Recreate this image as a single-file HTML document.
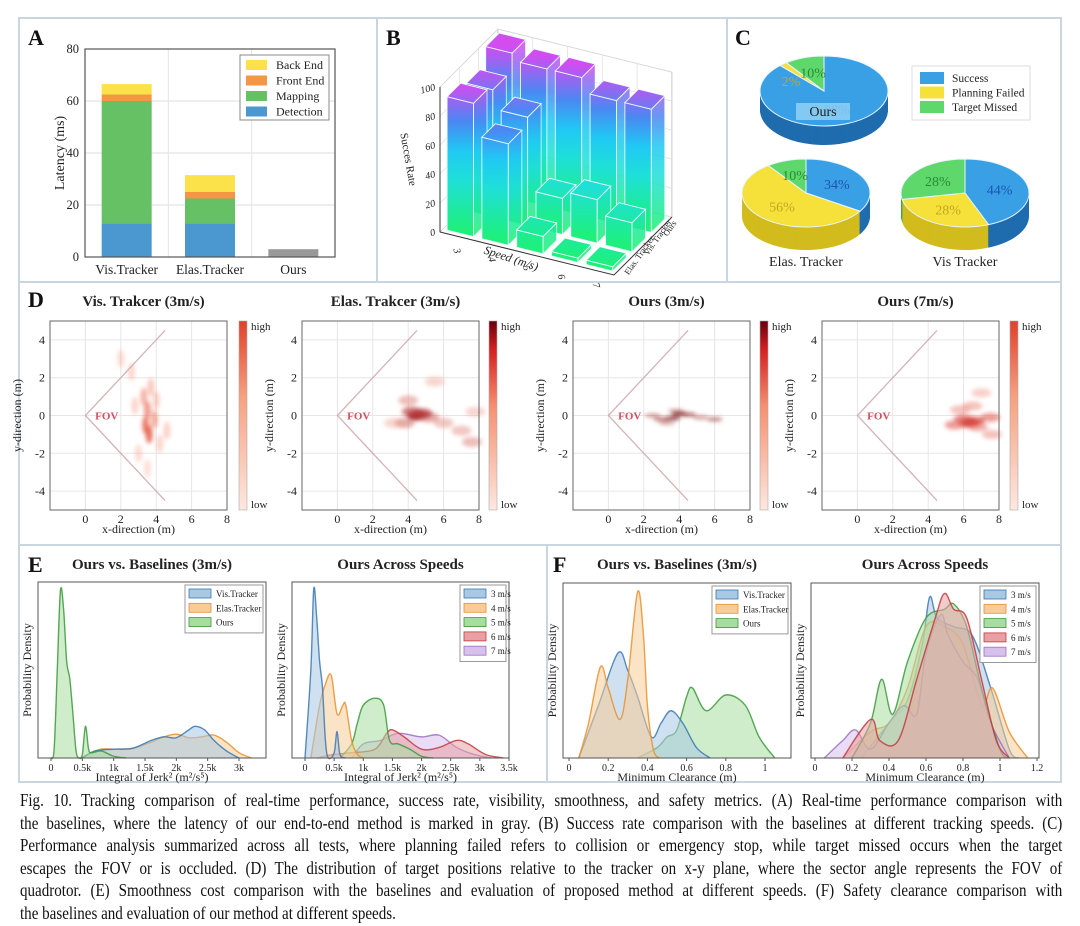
<!DOCTYPE html>
<html><head><meta charset="utf-8"><style>
html,body{margin:0;padding:0;background:#fff;}
body{width:1080px;height:926px;position:relative;overflow:hidden;font-family:"Liberation Serif",serif;}
#cap{position:absolute;left:20px;top:789px;width:1042px;font-size:17.5px;line-height:22.6px;color:#111;}
#cap div{width:1212px;transform:scaleX(0.86);transform-origin:0 0;text-align:justify;text-align-last:justify;white-space:nowrap;height:22.6px;}
#cap div.last{text-align-last:left;}
svg text{font-family:"Liberation Serif",serif;}
</style></head><body>
<svg id="fig" width="1080" height="926" viewBox="0 0 1080 926" style="position:absolute;left:0;top:0">
<defs>
<filter id="blur2" x="-50%" y="-50%" width="200%" height="200%"><feGaussianBlur stdDeviation="2"/></filter>
<linearGradient id="cbar1" x1="0" y1="1" x2="0" y2="0"><stop offset="0" stop-color="#fde8e0"/><stop offset="0.6" stop-color="#f7a080"/><stop offset="1" stop-color="#e0402a"/></linearGradient>
<linearGradient id="cbar2" x1="0" y1="1" x2="0" y2="0"><stop offset="0" stop-color="#fde8e0"/><stop offset="0.55" stop-color="#f59070"/><stop offset="0.85" stop-color="#d42020"/><stop offset="1" stop-color="#67000d"/></linearGradient>
</defs>
</svg>
<div id="cap">
<div>Fig. 10. Tracking comparison of real-time performance, success rate, visibility, smoothness, and safety metrics. (A) Real-time performance comparison with</div>
<div>the baselines, where the latency of our end-to-end method is marked in gray. (B) Success rate comparison with the baselines at different tracking speeds. (C)</div>
<div>Performance analysis summarized across all tests, where planning failed refers to collision or emergency stop, while target missed occurs when the target</div>
<div>escapes the FOV or is occluded. (D) The distribution of target positions relative to the tracker on x-y plane, where the sector angle represents the FOV of</div>
<div>quadrotor. (E) Smoothness cost comparison with the baselines and evaluation of proposed method at different speeds. (F) Safety clearance comparison with</div>
<div class="last">the baselines and evaluation of our method at different speeds.</div>
</div>
<script>
// ---------- DATA ----------
// Panel A
const aCategories = ["Vis.Tracker","Elas.Tracker","Ours"];
const aDetection = [13, 13, 0];
const aMapping = [47, 9.5, 0];
const aFrontEnd = [2.5, 2.5, 0];
const aBackEnd = [4, 6.5, 0];
const aOurs = [0, 0, 3];
const aTicks = [0, 20, 40, 60, 80];
// Panel B
const bSpeeds = ["3","4","5","6","7"];
const bTrackers = ["Elas. Tracker","Vis. Tracker","Ours"];
const bElas = [92, 70, 12, 3, 3];
const bVis = [88, 75, 25, 30, 20];
const bOurs = [100, 95, 95, 85, 85];
const bTicks = [0, 20, 40, 60, 80, 100];
// Panel C
const cLabels = ["Success","Planning Failed","Target Missed"];
const cOurs = [88, 2, 10];
const cElas = [34, 56, 10];
const cVis = [44, 28, 28];
// Panel D blobs [x, y, intensity]
const dVis = [[3.5,0.3,.6],[3.4,-0.5,.75],[3.6,-1,.8],[3.3,1,.45],[3.7,1.5,.3],[2,3,.15],[2.6,2.3,.18],[4.2,-1.5,.2],[4.6,-0.8,.22],[3,-2,.15],[3.5,-2.8,.1],[2.8,0.5,.2],[4,0.8,.25],[3.9,-0.2,.5]];
const dElas = [[4.5,0,.95],[4.2,0.2,.6],[3.8,-0.4,.4],[5.2,-0.1,.4],[4,0.8,.3],[6,-0.4,.25],[7,-0.8,.25],[7.6,-1.4,.3],[5.5,1.8,.15],[3.2,-0.4,.15],[7.8,0.2,.15],[4.8,0.1,.7]];
const dOurs3 = [[4,0.1,1],[3.6,-0.15,.85],[3,-0.2,.6],[2.5,0,.5],[4.5,0.05,.7],[5.2,-0.1,.5],[6,-0.2,.6],[3.3,-0.4,.4],[3.8,0.25,.4]];
const dOurs7 = [[6.3,-0.4,.9],[6,-0.2,.6],[5.5,-0.5,.5],[6.8,-0.6,.4],[7.5,-0.1,.5],[7.6,-1,.3],[6.5,0.5,.3],[7,1.2,.2],[5.8,0.3,.3],[6.6,-0.3,.7]];
const dXTicks = [0, 2, 4, 6, 8];
const dYTicks = [4, 2, 0, -2, -4];
// Panel E (x in k, y fraction of axis height)
const eVis = [[0.5,0],[0.7,0.04],[1.0,0.05],[1.3,0.055],[1.6,0.1],[1.8,0.12],[2.0,0.115],[2.2,0.16],[2.3,0.18],[2.45,0.16],[2.6,0.1],[2.8,0.04],[3.0,0]];
const eElas = [[0.45,0],[0.6,0.02],[0.8,0.05],[1.0,0.05],[1.3,0.055],[1.6,0.09],[1.8,0.12],[2.0,0.135],[2.2,0.115],[2.4,0.12],[2.6,0.13],[2.8,0.09],[3.0,0.03],[3.2,0]];
const eOurs = [[0,0],[0.05,0.05],[0.1,0.5],[0.15,0.95],[0.2,0.85],[0.25,0.55],[0.3,0.45],[0.35,0.25],[0.4,0.04],[0.45,0],[0.5,0.02],[0.55,0.18],[0.6,0.05],[0.65,0.03],[0.8,0.04],[1.0,0.01],[1.2,0]];
const eS3 = [[0,0],[0.1,0.5],[0.15,0.96],[0.2,0.8],[0.25,0.55],[0.3,0.4],[0.35,0.1],[0.4,0],[0.5,0.03],[0.55,0.15],[0.6,0.02],[0.7,0]];
const eS4 = [[0.1,0],[0.25,0.3],[0.35,0.42],[0.45,0.47],[0.55,0.25],[0.65,0.3],[0.7,0.3],[0.8,0.1],[0.9,0.02],[1.0,0]];
const eS5 = [[0.6,0],[0.8,0.08],[0.9,0.2],[1.0,0.3],[1.2,0.34],[1.35,0.3],[1.45,0.1],[1.6,0.08],[1.8,0.05],[2.0,0.01],[2.2,0]];
const eS6 = [[0.2,0],[0.5,0.02],[0.8,0.03],[1.2,0.05],[1.4,0.14],[1.5,0.16],[1.7,0.12],[2.0,0.05],[2.3,0.06],[2.6,0.1],[2.8,0.08],[3.1,0.02],[3.4,0]];
const eS7 = [[0.8,0],[1.0,0.08],[1.3,0.1],[1.6,0.14],[2.0,0.12],[2.3,0.13],[2.6,0.06],[2.9,0.02],[3.2,0]];
const eTicksL = [0,0.5,1,1.5,2,2.5,3];
const eTickLabelsL = ["0","0.5k","1k","1.5k","2k","2.5k","3k"];
const eTicksR = [0,0.5,1,1.5,2,2.5,3,3.5];
const eTickLabelsR = ["0","0.5k","1k","1.5k","2k","2.5k","3k","3.5k"];
// Panel F
const fVis = [[0.05,0],[0.15,0.3],[0.25,0.6],[0.3,0.5],[0.35,0.35],[0.42,0.12],[0.47,0.2],[0.52,0.27],[0.58,0.2],[0.65,0.06],[0.72,0]];
const fElas = [[0.05,0],[0.1,0.2],[0.16,0.52],[0.2,0.4],[0.26,0.22],[0.3,0.45],[0.35,0.95],[0.38,0.7],[0.4,0.3],[0.43,0.05],[0.46,0]];
const fOurs = [[0.35,0],[0.45,0.06],[0.5,0.12],[0.55,0.16],[0.6,0.35],[0.63,0.4],[0.7,0.27],[0.8,0.36],[0.9,0.3],[0.97,0.12],[1.05,0]];
const fS3 = [[0.25,0],[0.4,0.2],[0.5,0.33],[0.58,0.65],[0.62,0.92],[0.66,0.8],[0.75,0.75],[0.85,0.7],[0.95,0.4],[1.05,0.05],[1.1,0]];
const fS4 = [[0.15,0],[0.3,0.15],[0.4,0.2],[0.5,0.4],[0.6,0.75],[0.7,0.75],[0.8,0.65],[0.9,0.3],[0.96,0.4],[1.05,0.15],[1.15,0]];
const fS5 = [[0.2,0],[0.3,0.2],[0.36,0.45],[0.42,0.25],[0.5,0.55],[0.6,0.8],[0.7,0.85],[0.75,0.88],[0.82,0.75],[0.9,0.4],[1.0,0.05],[1.05,0]];
const fS6 = [[0.15,0],[0.3,0.22],[0.35,0.1],[0.45,0.1],[0.55,0.45],[0.65,0.8],[0.7,0.94],[0.75,0.85],[0.82,0.8],[0.9,0.45],[0.98,0.1],[1.05,0]];
const fS7 = [[0.05,0],[0.15,0.1],[0.22,0.16],[0.3,0.05],[0.4,0.2],[0.48,0.3],[0.55,0.25],[0.6,0.6],[0.68,0.82],[0.72,0.7],[0.8,0.55],[0.88,0.45],[0.95,0.2],[1.05,0]];
const fTicksL = [0,0.2,0.4,0.6,0.8,1];
const fTickLabelsL = ["0","0.2","0.4","0.6","0.8","1"];
const fTicksR = [0,0.2,0.4,0.6,0.8,1,1.2];
const fTickLabelsR = ["0","0.2","0.4","0.6","0.8","1","1.2"];

// ---------- HELPERS ----------
const NS = "http://www.w3.org/2000/svg";
const svg = document.getElementById("fig");
function mk(tag, attrs, parent) {
  const e = document.createElementNS(NS, tag);
  for (const k in attrs) e.setAttribute(k, attrs[k]);
  (parent || svg).appendChild(e);
  return e;
}
function txt(x, y, s, size, opts, parent) {
  const o = Object.assign({x: x, y: y, "font-size": size, fill: "#222"}, opts || {});
  const t = mk("text", o, parent);
  t.textContent = s;
  return t;
}
function smooth(pts) {
  let d = "M" + pts[0][0] + "," + pts[0][1];
  for (let i = 0; i < pts.length - 1; i++) {
    const p0 = pts[Math.max(0, i - 1)], p1 = pts[i], p2 = pts[i + 1], p3 = pts[Math.min(pts.length - 1, i + 2)];
    const c1x = p1[0] + (p2[0] - p0[0]) / 6, c1y = p1[1] + (p2[1] - p0[1]) / 6;
    const c2x = p2[0] - (p3[0] - p1[0]) / 6, c2y = p2[1] - (p3[1] - p1[1]) / 6;
    d += " C" + c1x + "," + c1y + " " + c2x + "," + c2y + " " + p2[0] + "," + p2[1];
  }
  return d;
}

// ---------- PANEL BORDERS ----------
const borders = [[19,18,358,264],[377,18,350,264],[727,18,334,264],[19,282,1042,263],[19,545,528,237],[547,545,514,237]];
const bnames = ["panel-a-frame","panel-b-frame","panel-c-frame","panel-d-frame","panel-e-frame","panel-f-frame"];
borders.forEach((b, i) => {
  const r = mk("rect", {x: b[0], y: b[1], width: b[2], height: b[3], fill: "none", stroke: "#c9d6e0", "stroke-width": 2});
  
  
});
const letters = [["A",28,45],["B",386,45],["C",735,45],["D",28,307],["E",28,572],["F",553,572]];
letters.forEach(l => {
  const t = txt(l[1], l[2], l[0], 22, {"font-weight": "bold", fill: "#111"});
  
  
});

// ---------- PANEL A ----------
(function () {
  const L = 85, R = 335, T = 49, B = 257, ymax = 80;
  const g = mk("g", {});
  
  
  const ys = v => B - (v / ymax) * (B - T);
  const xs = i => L + (i + 0.5) * (R - L) / 3;
  aTicks.forEach(v => {
    if (v > 0 && v < 80) mk("line", {x1: L, x2: R, y1: ys(v), y2: ys(v), stroke: "#ddd"}, g);
    const t = txt(L - 6, ys(v) + 4, String(v), 12.5, {"text-anchor": "end"}, g);
    
    
  });
  [1, 2].forEach(i => mk("line", {x1: L + i * (R - L) / 3, x2: L + i * (R - L) / 3, y1: T, y2: B, stroke: "#e4e4e4"}, g));
  const stacks = [[aDetection, "#4b97cf", "detection"], [aMapping, "#66c064", "mapping"], [aFrontEnd, "#f59646", "front-end"], [aBackEnd, "#fbe14a", "back-end"], [aOurs, "#999", "ours-latency"]];
  aCategories.forEach((c, i) => {
    let base = 0;
    stacks.forEach(s => {
      const v = s[0][i];
      if (v <= 0) return;
      const r = mk("rect", {x: xs(i) - 25, width: 50, y: ys(base + v), height: ys(base) - ys(base + v), fill: s[1]}, g);
      
      
      base += v;
    });
    const t = txt(xs(i), 274, c, 13.5, {"text-anchor": "middle"}, g);
    
    
  });
  mk("rect", {x: L, y: T, width: R - L, height: B - T, fill: "none", stroke: "#555", "stroke-width": 1.2}, g);
  const yl = txt(0, 0, "Latency (ms)", 14, {"text-anchor": "middle", transform: "translate(64,153) rotate(-90)"}, g);
  
  
  const lg = mk("g", {}, g);
  
  
  mk("rect", {x: 240, y: 55, width: 89, height: 65, fill: "#fff", stroke: "#888"}, lg);
  [["Back End", "#fbe14a"], ["Front End", "#f59646"], ["Mapping", "#66c064"], ["Detection", "#4b97cf"]].forEach((e, i) => {
    const sw = mk("rect", {x: 246, y: 60 + i * 15.5, width: 21, height: 10, fill: e[1]}, lg);
    
    
    const t = txt(276, 69 + i * 15.5, e[0], 12, {}, lg);
    
    
  });
})();

// ---------- PANEL B ----------
(function () {
  const g = mk("g", {});
  
  
  const O = [440, 232], S = [34.8, 8.6], Tv = [19.3, -19.3], H = 1.45;
  const P = (i, j, h) => [O[0] + i * S[0] + j * Tv[0], O[1] + i * S[1] + j * Tv[1] - h * H];
  const poly = (pts, attrs) => mk("polygon", Object.assign({points: pts.map(p => p.join(",")).join(" ")}, attrs), g);
  poly([P(0,0,0), P(0,3,0), P(0,3,100), P(0,0,100)], {fill: "#fff", stroke: "#bbb", "stroke-width": 0.8});
  poly([P(0,3,0), P(5,3,0), P(5,3,100), P(0,3,100)], {fill: "#fff", stroke: "#bbb", "stroke-width": 0.8});
  bTicks.forEach(v => {
    const a = P(0,0,v), b = P(0,3,v), c = P(5,3,v);
    mk("polyline", {points: [a, b, c].map(p => p.join(",")).join(" "), fill: "none", stroke: "#ddd", "stroke-width": 0.7}, g);
    const t = txt(a[0] - 5, a[1] + 3, String(v), 10, {"text-anchor": "end", "font-style": "italic", transform: "rotate(-15 " + (a[0] - 5) + " " + a[1] + ")"}, g);
    
    
  });
  for (let i = 1; i < 5; i++) { const a = P(i,3,0), b = P(i,3,100); mk("line", {x1: a[0], y1: a[1], x2: b[0], y2: b[1], stroke: "#ddd", "stroke-width": 0.7}, g); }
  for (let j = 1; j < 3; j++) { const a = P(0,j,0), b = P(0,j,100); mk("line", {x1: a[0], y1: a[1], x2: b[0], y2: b[1], stroke: "#ddd", "stroke-width": 0.7}, g); }
  const ax1 = P(0,0,0), ax2 = P(0,0,100);
  mk("line", {x1: ax1[0], y1: ax1[1], x2: ax2[0], y2: ax2[1], stroke: "#333"}, g);
  const s0 = P(0,0,0), s5 = P(5,0,0), t3 = P(5,3,0);
  mk("polyline", {points: [s0, s5, t3].map(p => p.join(",")).join(" "), fill: "none", stroke: "#333"}, g);
  const rows = [bElas, bVis, bOurs];
  let gid = 0;
  for (let j = 2; j >= 0; j--) {
    for (let i = 0; i < 5; i++) {
      const v = rows[j][i];
      const ii = i + 0.12, jj = j + 0.15, w = 0.76, dd = 0.7;
      const base = P(ii, jj, 0);
      const gradId = "bg" + (gid++);
      const lg = mk("linearGradient", {id: gradId, gradientUnits: "userSpaceOnUse", x1: 0, y1: base[1], x2: 0, y2: base[1] - 100 * H}, svg.querySelector("defs"));
      [["0", "#1ef07a"], ["0.35", "#1ee0d8"], ["0.55", "#20c8f4"], ["0.75", "#4a88f2"], ["1", "#d24cf0"]].forEach(s => mk("stop", {offset: s[0], "stop-color": s[1]}, lg));
      const bar = mk("g", {}, g);
      
      
      const f = [P(ii,jj,0), P(ii+w,jj,0), P(ii+w,jj,v), P(ii,jj,v)];
      const r = [P(ii+w,jj,0), P(ii+w,jj+dd,0), P(ii+w,jj+dd,v), P(ii+w,jj,v)];
      const tp = [P(ii,jj,v), P(ii+w,jj,v), P(ii+w,jj+dd,v), P(ii,jj+dd,v)];
      [[f, 1], [r, 0.85], [tp, 1]].forEach(face => {
        mk("polygon", {points: face[0].map(q => q.join(",")).join(" "), fill: "url(#" + gradId + ")", stroke: "#e8fbff", "stroke-width": 0.9, opacity: face[1]}, bar);
      });
    }
  }
  bSpeeds.forEach((s, i) => {
    const p = P(i + 0.5, 0, 0);
    const t = txt(p[0] - 4, p[1] + 13, s, 10, {"font-style": "italic", transform: "rotate(75 " + (p[0] - 4) + " " + (p[1] + 13) + ")"}, g);
    
    
  });
  const sl = txt(0, 0, "Speed (m/s)", 12, {"font-style": "italic", "text-anchor": "middle", transform: "translate(510,262) rotate(18)"}, g);
  
  
  bTrackers.forEach((s, j) => {
    const p = P(5, j + 0.5, 0);
    const x = p[0] + 5, y = p[1] + 10;
    const t = txt(x, y, s, 8.5, {transform: "rotate(-55 " + x + " " + y + ")"}, g);
    
    
  });
  const zl = txt(0, 0, "Succes Rate", 11, {"text-anchor": "middle", transform: "translate(405,160) rotate(80)"}, g);
  
  
})();

// ---------- PANEL C ----------
(function () {
  const top = ["#3aa0e6", "#f5e13a", "#5ed86a"], side = ["#1f6cae", "#d2bb1c", "#3aa84a"], lab = ["#1d55b0", "#c2a820", "#2a8a35"];
  function pie(cx, cy, rx, ry, depth, vals, name, labelText, labelY) {
    const g = mk("g", {});
    
    
    const total = vals.reduce((a, b) => a + b, 0);
    const path = (a0, a1, yy) => {
      const p0 = [cx + rx * Math.cos(a0), yy + ry * Math.sin(a0)], p1 = [cx + rx * Math.cos(a1), yy + ry * Math.sin(a1)];
      return "M" + cx + "," + yy + " L" + p0.join(",") + " A" + rx + "," + ry + " 0 " + ((a1 - a0) > Math.PI ? 1 : 0) + " 1 " + p1.join(",") + " Z";
    };
    for (let k = depth; k >= 1; k--) {
      let a = -Math.PI / 2;
      vals.forEach((v, i) => { const a1 = a + v / total * 2 * Math.PI; mk("path", {d: path(a, a1, cy + k), fill: side[i]}, g); a = a1; });
    }
    let a = -Math.PI / 2;
    vals.forEach((v, i) => {
      const a1 = a + v / total * 2 * Math.PI;
      const p = mk("path", {d: path(a, a1, cy), fill: top[i], stroke: "#e8f4ff", "stroke-width": 1}, g);
      
      
      const m = (a + a1) / 2;
      let lx = cx + rx * 0.55 * Math.cos(m), ly = cy + ry * 0.55 * Math.sin(m) + 5;
      if (v < 5) { lx = cx - 33; ly = cy - 5; }
      const t = txt(lx, ly, v + "%", 14, {"text-anchor": "middle", fill: lab[i]}, g);
      
      
      a = a1;
    });
    if (labelText) {
      const t = txt(cx, labelY, labelText, 14, {"text-anchor": "middle"}, g);
      
      
    }
    return g;
  }
  const gO = pie(824, 91, 64, 35, 19, cOurs, "pie-ours", null, 0);
  mk("rect", {x: 796, y: 103, width: 54, height: 17, fill: "#8fd0f4", opacity: 0.85}, gO);
  const ot = txt(823, 116, "Ours", 14, {"text-anchor": "middle"}, gO);
  
  
  pie(806, 193, 64, 34, 23, cElas, "pie-elas-tracker", "Elas. Tracker", 266);
  pie(965, 193, 64, 34, 23, cVis, "pie-vis-tracker", "Vis Tracker", 266);
  const lg = mk("g", {});
  
  
  mk("rect", {x: 912, y: 66, width: 118, height: 54, fill: "#fff", stroke: "#ddd"}, lg);
  cLabels.forEach((c, i) => {
    mk("rect", {x: 920, y: 72 + i * 14.5, width: 24, height: 12, fill: top[i]}, lg);
    const t = txt(952, 82 + i * 14.5, c, 11.5, {}, lg);
    
    
  });
})();

// ---------- PANEL D ----------
(function () {
  const panels = [
    {L: 50, title: "Vis. Trakcer  (3m/s)", data: dVis, rx: 3.5, ry: 9, cb: 239, grad: "cbar1", dark: [224, 64, 42]},
    {L: 302, title: "Elas. Trakcer  (3m/s)", data: dElas, rx: 10, ry: 5, cb: 489, grad: "cbar2", dark: [150, 0, 13]},
    {L: 573, title: "Ours (3m/s)", data: dOurs3, rx: 8, ry: 2, cb: 760, grad: "cbar2", dark: [110, 0, 13]},
    {L: 822, title: "Ours (7m/s)", data: dOurs7, rx: 10, ry: 4.5, cb: 1010, grad: "cbar1", dark: [200, 20, 20]}
  ];
  const T = 321, B = 510, W = 177;
  panels.forEach((pn, k) => {
    const g = mk("g", {});
    
    
    const xs = x => pn.L + (x + 2) / 10 * W, ys = y => B - (y + 5) / 10 * (B - T);
    mk("rect", {x: pn.L, y: T, width: W, height: B - T, fill: "#fff"}, g);
    dXTicks.forEach(x => mk("line", {x1: xs(x), x2: xs(x), y1: T, y2: B, stroke: "#e6e6e6"}, g));
    dYTicks.forEach(y => mk("line", {x1: pn.L, x2: pn.L + W, y1: ys(y), y2: ys(y), stroke: "#e6e6e6"}, g));
    const hg = mk("g", {filter: "url(#blur2)"}, g);
    pn.data.forEach(d => {
      const c = d[2];
      const col = "rgb(" + Math.round(252 + (pn.dark[0] - 252) * c) + "," + Math.round(190 + (pn.dark[1] - 190) * c) + "," + Math.round(170 + (pn.dark[2] - 170) * c) + ")";
      const e = mk("ellipse", {cx: xs(d[0]), cy: ys(d[1]), rx: pn.rx, ry: pn.ry, fill: col, opacity: 0.35 + 0.6 * c}, hg);
      
      
    });
    const fov = mk("polyline", {points: [xs(4.5), ys(4.5), xs(0), ys(0), xs(4.5), ys(-4.5)].join(" "), fill: "none", stroke: "#c8a0a8", "stroke-width": 1.3, opacity: 0.8}, g);
    
    
    const ft = txt(xs(0.55), ys(0) + 4, "FOV", 11, {fill: "#d25060", "font-weight": "bold"}, g);
    
    
    mk("rect", {x: pn.L, y: T, width: W, height: B - T, fill: "none", stroke: "#666", "stroke-width": 1}, g);
    dXTicks.forEach(x => { const t = txt(xs(x), B + 13, String(x), 12, {"text-anchor": "middle"}, g);   });
    dYTicks.forEach(y => { const t = txt(pn.L - 5, ys(y) + 4, String(y), 12, {"text-anchor": "end"}, g);   });
    const xt = txt(pn.L + W / 2, B + 23, "x-direction (m)", 12, {"text-anchor": "middle"}, g);
    
    
    const yt = txt(0, 0, "y-direction (m)", 12, {"text-anchor": "middle", transform: "translate(" + (pn.L - 29) + "," + ((T + B) / 2) + ") rotate(-90)"}, g);
    
    
    const tt = txt(pn.L + W / 2 + 5, 306, pn.title, 15, {"text-anchor": "middle", "font-weight": "bold", "xml:space": "preserve"}, g);
    
    
    const cb = mk("rect", {x: pn.cb, y: T, width: 8, height: B - T, fill: "url(#" + pn.grad + ")", stroke: "#aaa", "stroke-width": 0.6}, g);
    
    
    const hi = txt(pn.cb + 12, T + 9, "high", 11, {}, g);
    
    
    const lo = txt(pn.cb + 12, B - 2, "low", 11, {}, g);
    
    
  });
})();

// ---------- PANELS E / F ----------
const cols = {blue: "#3b78b0", orange: "#e8902e", green: "#3a9a3a", red: "#c23a40", purple: "#9a70c0"};
const fills = {blue: "#a8c8e4", orange: "#f8cc98", green: "#a8dca0", red: "#e8a0a4", purple: "#d8c0ec"};
function kde(box, xmin, xmax, series, ticks, tickLabels, xlabel, title, legend, name, legendW) {
  const g = mk("g", {});
  
  
  const xs = x => box.x0 + (x - xmin) / (xmax - xmin) * (box.x1 - box.x0);
  const ys = y => box.B - y * (box.B - box.T);
  series.forEach(s => {
    const pts = s.d.map(p => [xs(p[0]), ys(p[1])]);
    const line = smooth(pts);
    const f = mk("path", {d: line + " L" + pts[pts.length - 1][0] + "," + box.B + " L" + pts[0][0] + "," + box.B + " Z", fill: fills[s.c], opacity: 0.55}, g);
    
    
    const l = mk("path", {d: line, fill: "none", stroke: cols[s.c], "stroke-width": 1.4, opacity: 0.85}, g);
    
    
  });
  mk("rect", {x: box.L, y: box.T, width: box.R - box.L, height: box.B - box.T, fill: "none", stroke: "#555", "stroke-width": 1}, g);
  ticks.forEach((v, i) => {
    mk("line", {x1: xs(v), x2: xs(v), y1: box.B, y2: box.B + 3, stroke: "#555"}, g);
    const t = txt(xs(v), box.B + 13, tickLabels[i], 10, {"text-anchor": "middle"}, g);
    
    
  });
  const xt = txt((box.L + box.R) / 2, box.B + 23, xlabel, 12, {"text-anchor": "middle"}, g);
  
  
  const yt = txt(0, 0, "Probability Density", 12, {"text-anchor": "middle", transform: "translate(" + (box.L - 7) + "," + ((box.T + box.B) / 2) + ") rotate(-90)"}, g);
  
  
  const tt = txt((box.L + box.R) / 2, 569, title, 15, {"text-anchor": "middle", "font-weight": "bold"}, g);
  
  
  const lg = mk("g", {}, g);
  
  
  const lx = box.R - legendW - 3;
  mk("rect", {x: lx, y: box.T + 3, width: legendW, height: legend.length * 14.3 + 5, fill: "#fff", stroke: "#999"}, lg);
  legend.forEach((e, i) => {
    mk("rect", {x: lx + 4, y: box.T + 7 + i * 14.3, width: 22, height: 9, fill: fills[e[1]], stroke: cols[e[1]], "stroke-width": 0.8}, lg);
    const t = txt(lx + 31, box.T + 15 + i * 14.3, e[0], 9, {}, lg);
    
    
  });
}
kde({L: 38, R: 266, T: 582, B: 758, x0: 51, x1: 239}, 0, 3,
  [{d: eElas, c: "orange", n: "elas"}, {d: eVis, c: "blue", n: "vis"}, {d: eOurs, c: "green", n: "ours"}],
  eTicksL, eTickLabelsL, "Integral of Jerk² (m²/s⁵)", "Ours vs. Baselines (3m/s)",
  [["Vis.Tracker", "blue"], ["Elas.Tracker", "orange"], ["Ours", "green"]], "jerk-baselines-chart", 78);
kde({L: 292, R: 509, T: 582, B: 758, x0: 305, x1: 509}, 0, 3.5,
  [{d: eS7, c: "purple", n: "7ms"}, {d: eS6, c: "red", n: "6ms"}, {d: eS5, c: "green", n: "5ms"}, {d: eS4, c: "orange", n: "4ms"}, {d: eS3, c: "blue", n: "3ms"}],
  eTicksR, eTickLabelsR, "Integral of Jerk² (m²/s⁵)", "Ours Across Speeds",
  [["3 m/s", "blue"], ["4 m/s", "orange"], ["5 m/s", "green"], ["6 m/s", "red"], ["7 m/s", "purple"]], "jerk-speeds-chart", 46);
kde({L: 563, R: 791, T: 583, B: 758, x0: 569, x1: 765}, 0, 1,
  [{d: fOurs, c: "green", n: "ours"}, {d: fVis, c: "blue", n: "vis"}, {d: fElas, c: "orange", n: "elas"}],
  fTicksL, fTickLabelsL, "Minimum Clearance (m)", "Ours vs. Baselines (3m/s)",
  [["Vis.Tracker", "blue"], ["Elas.Tracker", "orange"], ["Ours", "green"]], "clearance-baselines-chart", 76);
kde({L: 811, R: 1039, T: 583, B: 758, x0: 815, x1: 1037}, 0, 1.2,
  [{d: fS3, c: "blue", n: "3ms"}, {d: fS4, c: "orange", n: "4ms"}, {d: fS7, c: "purple", n: "7ms"}, {d: fS5, c: "green", n: "5ms"}, {d: fS6, c: "red", n: "6ms"}],
  fTicksR, fTickLabelsR, "Minimum Clearance (m)", "Ours Across Speeds",
  [["3 m/s", "blue"], ["4 m/s", "orange"], ["5 m/s", "green"], ["6 m/s", "red"], ["7 m/s", "purple"]], "clearance-speeds-chart", 56);
</script>
</body></html>
